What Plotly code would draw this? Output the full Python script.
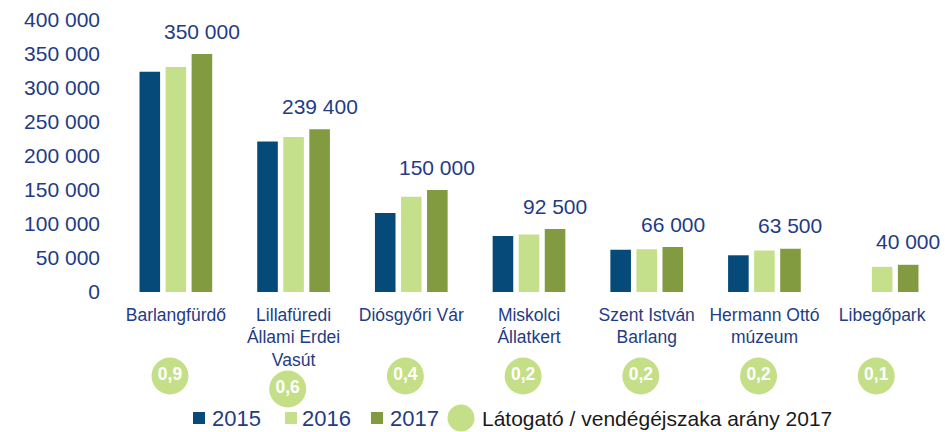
import plotly.graph_objects as go

categories = ["Barlangfürdő", "Lillafüredi<br>Állami Erdei<br>Vasút", "Diósgyőri Vár",
              "Miskolci<br>Állatkert", "Szent István<br>Barlang", "Hermann Ottó<br>múzeum", "Libegőpark"]
years = ["2015", "2016", "2017"]
v2015 = [324000, 221500, 116000, 82500, 62000, 54000, None]
v2016 = [331000, 228000, 140000, 84500, 63000, 61000, 37000]
v2017 = [350000, 239400, 150000, 92500, 66000, 63500, 40000]
ratio_2017 = ["0,9", "0,6", "0,4", "0,2", "0,2", "0,2", "0,1"]
y_ticks = [0, 50000, 100000, 150000, 200000, 250000, 300000, 350000, 400000]

series = [v2015, v2016, v2017]
colors = ["#064A7A", "#C4E08A", "#829A40"]
circle_color = "#C4DF88"
navy = "#1F3C84"
FONT = "Liberation Sans, Arial, sans-serif"

W, H = 945, 432
ML, MR, MT, MB = 117, 4, 20, 0
PW, PH = W - ML - MR, H - MT - MB


def px_x(px):
    return (px - ML) / PW


def px_y(py):
    return (H - MB - py) / PH


def fmt(v):
    return f"{v:,}".replace(",", " ")


fig = go.Figure()
for name, vals, col in zip(years, series, colors):
    fig.add_trace(go.Bar(x=categories, y=vals, name=name, marker=dict(color=col, line=dict(width=0)),
                         showlegend=False, hoverinfo="skip"))

# ratio circles on lower helper axes
levels = [0.22 if c.count("<br>") >= 2 else 0.48 for c in categories]
fig.add_trace(go.Scatter(x=categories, y=levels, xaxis="x2", yaxis="y2", mode="markers+text",
                         marker=dict(size=37, color=circle_color, line=dict(width=0)),
                         text=ratio_2017, texttemplate="<b>%{text}</b>",
                         textposition="middle center",
                         textfont=dict(family=FONT, size=17.5, color="white"),
                         cliponaxis=False, showlegend=False, hoverinfo="skip"))

# 2017 value labels
for c, v in zip(categories, v2017):
    fig.add_annotation(x=c, y=v, xref="x", yref="y", text=fmt(v), showarrow=False,
                       xshift=26, yshift=23, yanchor="middle",
                       font=dict(family=FONT, size=21, color=navy))

# manual legend
leg_y = px_y(418)
sq_centers = [199, 291, 377]
txt_left = [210, 300, 388]
for name, col, cx, tx in zip(years, colors, sq_centers, txt_left):
    fig.add_shape(type="rect", xref="paper", yref="paper",
                  x0=px_x(cx - 6), x1=px_x(cx + 6), y0=px_y(424), y1=px_y(412),
                  fillcolor=col, line=dict(width=0))
    fig.add_annotation(x=px_x(tx), y=leg_y, xref="paper", yref="paper", text=name,
                       showarrow=False, xanchor="left", yanchor="middle",
                       font=dict(family=FONT, size=22, color=navy))
fig.add_shape(type="circle", xref="paper", yref="paper",
              x0=px_x(461 - 13.5), x1=px_x(461 + 13.5), y0=px_y(418 + 13.5), y1=px_y(418 - 13.5),
              fillcolor=circle_color, line=dict(width=0))
fig.add_annotation(x=px_x(480), y=leg_y, xref="paper", yref="paper",
                   text="Látogató / vendégéjszaka arány 2017",
                   showarrow=False, xanchor="left", yanchor="middle",
                   font=dict(family=FONT, size=21, color="#1a1a1a"))

fig.update_layout(
    width=W, height=H,
    margin=dict(l=ML, r=MR, t=MT, b=MB, autoexpand=False),
    paper_bgcolor="white", plot_bgcolor="white",
    barmode="group", bargap=0.336, bargroupgap=0.21,
    separators=", ",
    font=dict(family=FONT, color=navy),
    xaxis=dict(type="category", range=[-0.5, 6.5], showgrid=False, zeroline=False, showline=False,
               ticks="", tickfont=dict(family=FONT, size=17.5, color=navy), ticklabelstandoff=10,
               tickangle=0, fixedrange=True, automargin=False),
    xaxis2=dict(type="category", range=[-0.45, 6.55], overlaying="x", visible=False, anchor="y2"),
    yaxis=dict(domain=[px_y(292), 1], range=[0, 400000], tickvals=y_ticks, tickformat=",d",
               showgrid=False, zeroline=False, showline=False, ticks="", automargin=False,
               tickfont=dict(family=FONT, size=21, color=navy), ticklabelstandoff=16),
    yaxis2=dict(domain=[px_y(400), px_y(350)], range=[0, 1], visible=False, anchor="x2"),
)

fig.write_html("out.html", config={"displayModeBar": False},
               post_script="document.body.style.margin='0';document.body.style.overflow='hidden';")
